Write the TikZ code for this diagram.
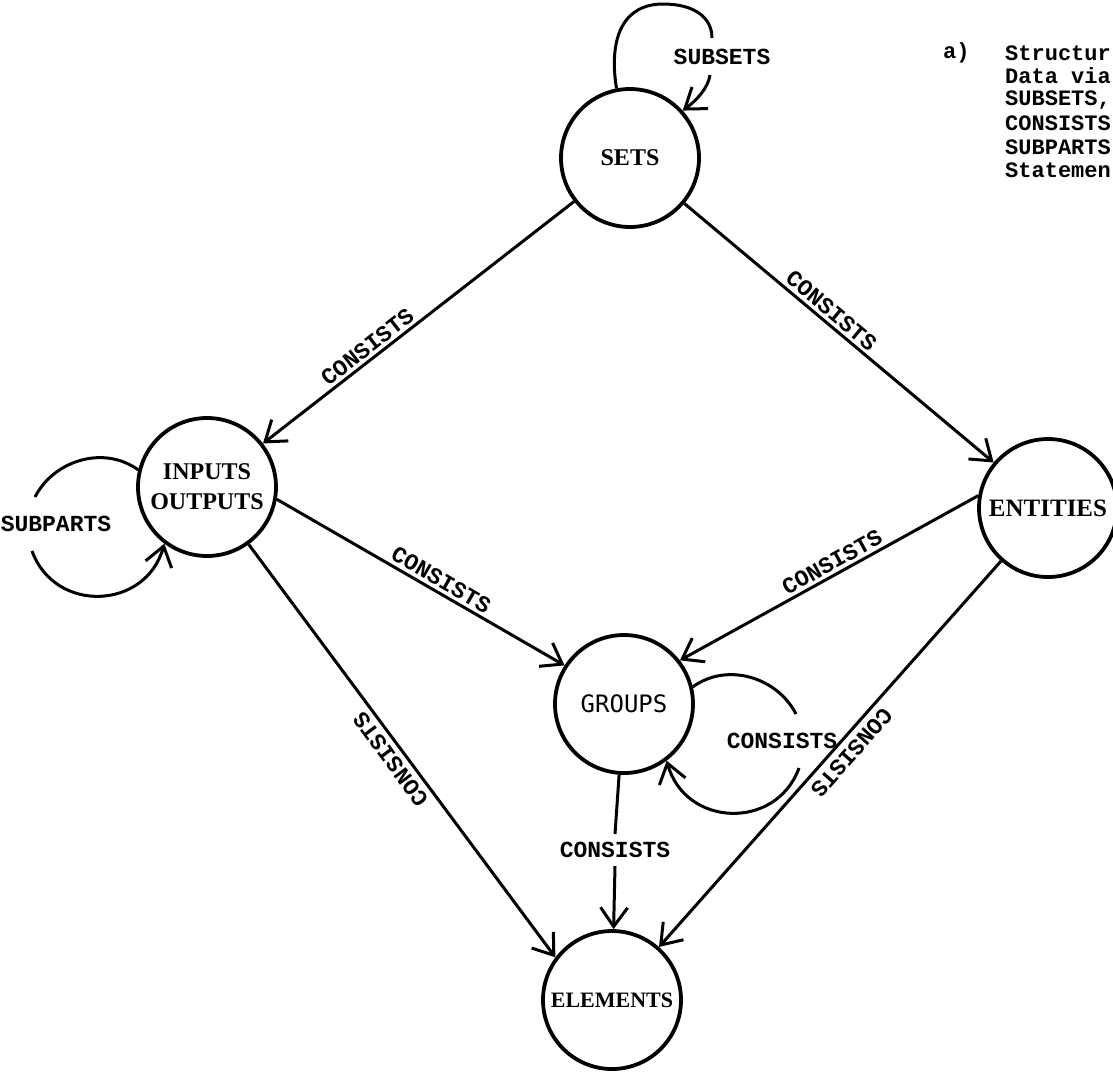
\documentclass[tikz,border=0pt]{standalone}
\usepackage{fontspec}
\setmainfont{Liberation Serif}
\newfontfamily\typew{Liberation Mono}
\newfontfamily\gothic{DejaVu Sans Mono}
\usetikzlibrary{arrows.meta}
\begin{document}
\begin{tikzpicture}[x=1pt,y=-1pt,
  state/.style={draw, circle, line width=3.8pt, minimum size=138pt, inner sep=0pt, align=center, font=\bfseries\fontsize{24}{30}\selectfont},
  conn/.style={line width=3pt, -{Straight Barb[length=19pt,width=27pt]}},
  plain/.style={line width=3pt},
  lbl/.style={font=\typew\bfseries\fontsize{23}{23}\selectfont, inner sep=3pt},
  note/.style={font=\typew\bfseries\fontsize{22}{22}\selectfont, anchor=west, inner sep=0pt},
]
\useasboundingbox (0,0) rectangle (1113,1072);
\node[state] (sets) at (630,158) {SETS};
\node[state] (inputs) at (207,487) {INPUTS\\OUTPUTS};
\node[state, font=\bfseries\fontsize{25}{30}\selectfont] (entities) at (1048,508) {ENTITIES};
\node[state, font=\gothic\fontsize{24}{24}\selectfont] (groups) at (624,704) {GROUPS};
\node[state, font=\bfseries\fontsize{22}{30}\selectfont] (elements) at (612,1000) {ELEMENTS};

\draw[conn] (sets) -- node[lbl, sloped, above, pos=0.64]{CONSISTS} (inputs);
\draw[conn] (sets) -- node[lbl, sloped, above, pos=0.45]{CONSISTS} (entities);
\draw[conn] (inputs.-10) -- node[lbl, sloped, above, pos=0.55]{CONSISTS} (groups.147);
\draw[conn] (entities.170) -- node[lbl, sloped, above, pos=0.47]{CONSISTS} (groups.38);
\draw[conn] (inputs.-54) -- node[lbl, rotate=126.5, anchor=south, pos=0.5, inner sep=5pt]{CONSISTS} (elements.143);
\draw[conn] (entities) -- node[lbl, rotate=-131.5, anchor=south, pos=0.47, inner sep=6pt]{CONSISTS} (elements);

\node[lbl, inner ysep=8pt] (gcons) at (615,850) {CONSISTS};
\draw[plain] (groups) -- (gcons.north);
\draw[conn] (gcons.south) -- (elements);

% loop on GROUPS
\coordinate (gl1) at (796,714);
\coordinate (gl2) at (799,768);
\draw[plain] (groups.14) .. controls (727,662) and (777,677) .. (gl1);
\draw[conn] (gl2) .. controls (776,831) and (685,827) .. (groups.-53);
\node[lbl] (gloop) at (782,741) {CONSISTS};

% loop on INPUTS OUTPUTS
\coordinate (il1) at (35,497);
\coordinate (il2) at (32,551);
\draw[plain] (inputs.166) .. controls (104,445) and (54,460) .. (il1);
\draw[conn] (il2) .. controls (55,614) and (146,610) .. (inputs.-127);
\node[lbl] (iloop) at (56,524) {SUBPARTS};

% loop on SETS
\coordinate (stop) at (663,4);
\coordinate (sl1) at (712,38);
\coordinate (sl2) at (710,75);
\draw[plain] (sets.101) .. controls (608,35) and (625,4) .. (stop) .. controls (695,4) and (712,18) .. (sl1);
\draw[conn] (sl2) .. controls (708,88) and (697,100) .. (sets.42);
\node[lbl] (sloop) at (722,57) {SUBSETS};

\node[note] (na) at (943,53) {a)};
\node[note] (n1) at (1005,53) {Structur};
\node[note] (n2) at (1005,76) {Data via};
\node[note] (n3) at (1005,100) {SUBSETS,};
\node[note] (n4) at (1005,123) {CONSISTS};
\node[note] (n5) at (1005,147) {SUBPARTS};
\node[note] (n6) at (1005,170) {Statemen};
\end{tikzpicture}
\end{document}
